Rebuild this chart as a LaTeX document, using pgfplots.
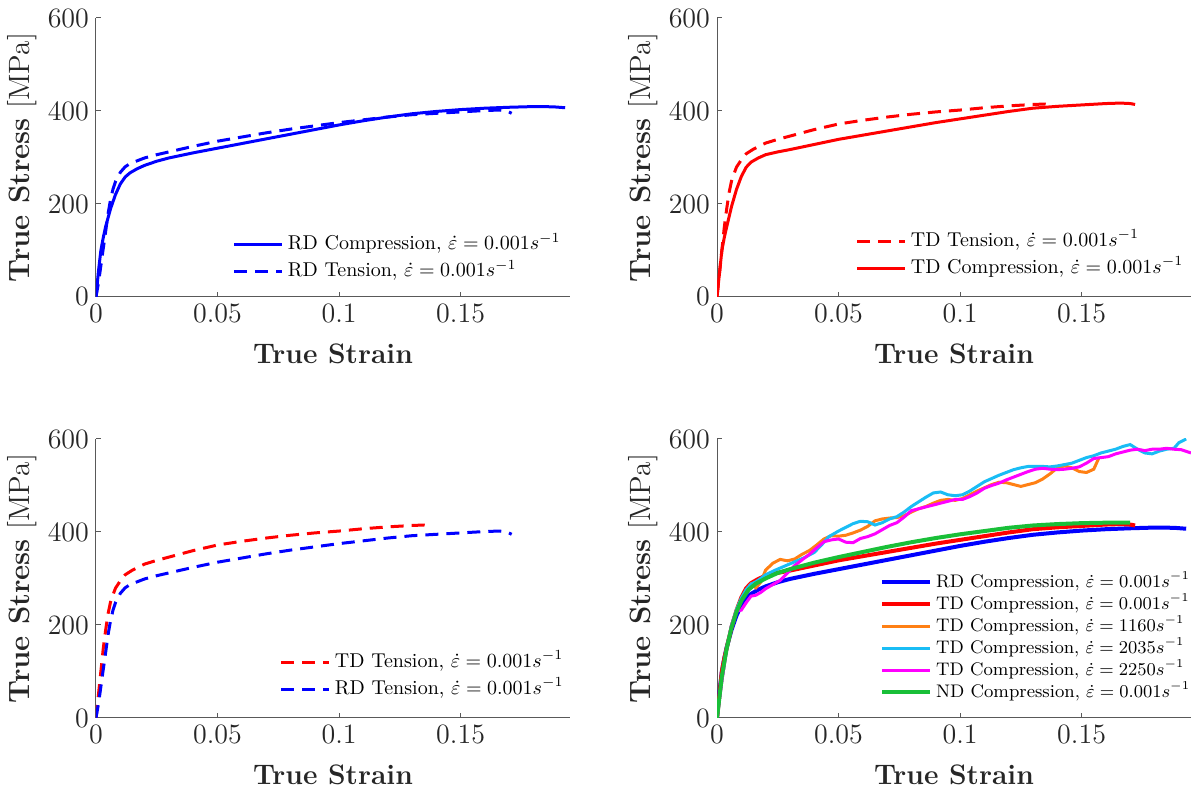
\documentclass[border=0pt]{standalone}
\usepackage{pgfplots}
\pgfplotsset{compat=1.18}
\definecolor{mblue}{rgb}{0,0,1}
\definecolor{mred}{rgb}{1,0,0}
\definecolor{morange}{rgb}{1,0.5,0.08}
\definecolor{mcyan}{rgb}{0.1,0.74,0.96}
\definecolor{mmag}{rgb}{1,0,1}
\definecolor{mgreen}{rgb}{0.1,0.75,0.22}
\definecolor{axgray}{rgb}{0.35,0.35,0.35}

\pgfplotstableread{
x y
0 0
0.001 55
0.002 100
0.003 128
0.004 152
0.006 190
0.008 220
0.010 243
0.012 258
0.014 267
0.017 276
0.020 283
0.025 292
0.030 299
0.040 310
0.050 320
0.060 330
0.070 340
0.080 350
0.090 360
0.100 370
0.110 379
0.120 387
0.130 394
0.140 399
0.150 403
0.160 406
0.170 408
0.180 409.5
0.188 409
0.193 407
}\rdcomp

\pgfplotstableread{
x y
0 0
0.001 30
0.002 67
0.003 105
0.004 142
0.005 180
0.006 210
0.007 232
0.008 248
0.010 268
0.012 280
0.014 287
0.017 293
0.020 299
0.025 306
0.030 312
0.040 324
0.050 335
0.060 344
0.070 353
0.080 361
0.090 368
0.100 375
0.110 381
0.120 387
0.130 392
0.140 395
0.150 398
0.160 401
0.166 402
0.169 400
0.171 395
}\rdten

\pgfplotstableread{
x y
0 0
0.001 50
0.002 100
0.003 128
0.004 151
0.006 195
0.008 231
0.010 259
0.012 279
0.014 290
0.017 299
0.020 306
0.025 312
0.030 317
0.040 328
0.050 339
0.060 348
0.070 357
0.080 366
0.090 375
0.100 383
0.110 391
0.120 399
0.130 406
0.140 410
0.150 413
0.160 416
0.166 417
0.170 416
0.172 414
}\tdcomp

\pgfplotstableread{
x y
0 0
0.001 50
0.002 100
0.003 150
0.004 190
0.005 225
0.006 250
0.007 265
0.008 279
0.010 295
0.012 308
0.015 318
0.020 331
0.025 339
0.030 346
0.040 360
0.050 372
0.060 380
0.070 387
0.080 393
0.090 398
0.100 402
0.110 407
0.120 411
0.130 414
0.135 415
0.138 412
}\tdten

\pgfplotstableread{
x y
0 0
0.002 90
0.004 150
0.006 195
0.008 228
0.010 252
0.013 276
0.016 289
0.020 300
0.025 312
0.030 320
0.040 334
0.050 346
0.060 357
0.070 368
0.080 378
0.090 387
0.100 395
0.110 402
0.120 409
0.130 414
0.140 417
0.150 419
0.160 420
0.170 420
}\ndcomp

\pgfplotstableread{
x y
0 0
0.002 80
0.004 150
0.006 200
0.008 232
0.010 255
0.012 276
0.014 288
0.016 280
0.018 292
0.020 318
0.023 333
0.026 341
0.029 338
0.032 342
0.035 352
0.038 360
0.041 372
0.044 385
0.047 392
0.050 391
0.053 393
0.056 398
0.059 404
0.062 412
0.065 424
0.068 428
0.071 430
0.074 431
0.077 435
0.080 443
0.083 450
0.086 455
0.089 462
0.092 468
0.095 470
0.098 468
0.101 472
0.104 480
0.107 488
0.110 495
0.113 502
0.116 507
0.119 506
0.122 502
0.125 498
0.128 502
0.131 506
0.134 514
0.137 525
0.140 538
0.143 542
0.146 538
0.149 530
0.152 528
0.155 535
0.157 558
}\tdA

\pgfplotstableread{
x y
0 0
0.002 80
0.004 150
0.006 200
0.008 233
0.010 258
0.012 276
0.014 288
0.016 293
0.018 300
0.020 308
0.024 318
0.028 327
0.032 336
0.036 345
0.040 356
0.043 372
0.046 390
0.050 402
0.053 410
0.056 418
0.059 423
0.062 422
0.065 415
0.068 420
0.071 428
0.074 433
0.077 443
0.080 455
0.083 465
0.086 475
0.089 484
0.092 486
0.095 480
0.098 478
0.101 480
0.104 488
0.107 498
0.110 508
0.113 515
0.116 522
0.119 528
0.122 534
0.125 538
0.128 541
0.131 541
0.134 541
0.137 540
0.140 542
0.143 545
0.146 548
0.149 554
0.152 560
0.155 564
0.158 570
0.161 574
0.164 578
0.167 584
0.170 588
0.173 578
0.176 570
0.179 568
0.182 574
0.185 578
0.188 580
0.190 592
0.193 600
}\tdB

\pgfplotstableread{
x y
0 0
0.002 80
0.004 150
0.006 200
0.008 230
0.010 232
0.012 248
0.014 262
0.016 264
0.018 270
0.020 278
0.023 287
0.026 296
0.029 312
0.032 328
0.035 340
0.038 352
0.041 366
0.044 379
0.047 383
0.050 385
0.053 378
0.056 377
0.059 386
0.062 390
0.065 396
0.068 405
0.071 414
0.074 420
0.077 432
0.080 446
0.083 450
0.086 454
0.089 458
0.092 462
0.095 466
0.098 470
0.101 470
0.104 476
0.107 484
0.110 494
0.113 500
0.116 505
0.119 512
0.122 518
0.125 524
0.128 530
0.131 535
0.134 537
0.137 535
0.140 534
0.143 535
0.146 537
0.149 540
0.152 548
0.155 558
0.158 560
0.161 562
0.164 568
0.167 572
0.170 576
0.173 578
0.176 575
0.179 578
0.182 578
0.185 580
0.188 578
0.191 577
0.195 570
}\tdC

\pgfplotsset{
  myax/.style={
    scale only axis, width=237pt, height=139.5pt,
    xmin=0, xmax=0.195, ymin=0, ymax=600,
    axis x line*=bottom, axis y line*=left,
    axis line style={-, draw=axgray, line width=0.5pt},
    xtick={0,0.05,0.1,0.15}, xticklabels={0,0.05,0.1,0.15},
    ytick={0,200,400,600}, yticklabels={0,200,400,600},
    tick align=inside, major tick length=2.5pt,
    tick style={draw=axgray, line width=0.5pt},
    ticklabel style={font=\fontsize{14}{16}\selectfont, text=black!85},
    xlabel={\textbf{True Strain}},
    ylabel={\textbf{True Stress} [MPa]},
    xlabel style={font=\fontsize{14.1}{16}\selectfont, text=black!85,
      at={(axis description cs:0.5,-0.204)}, anchor=center},
    ylabel style={font=\fontsize{14.7}{16}\selectfont, text=black!85,
      at={(axis description cs:-0.156,0.5)}, anchor=center, rotate=0},
    legend cell align=left,
    legend image code/.code={\draw[##1] (0pt,0pt) -- (24pt,0pt);},
    legend style={draw=none, fill=none, inner sep=0pt, outer sep=0pt,
      font=\fontsize{10}{12}\selectfont, row sep=3.5pt,
      nodes={inner xsep=2pt, inner ysep=0pt, text height=7.5pt, text depth=2.5pt}},
  },
  sol/.style={line width=1.5pt, solid},
  dsh/.style={line width=1.5pt, dash pattern=on 6.5pt off 4pt},
}

\begin{document}
\begin{tikzpicture}
\path[use as bounding box] (0,0) rectangle (595.5pt,397.5pt);

% top left
\begin{axis}[myax, at={(48pt,249pt)}, anchor=south west,
  legend style={at={(axis description cs:0.289,0.138)}, anchor=west}]
\addplot[mblue, sol] table {\rdcomp};
\addlegendentry{RD Compression, $\dot{\varepsilon}=0.001s^{-1}$}
\addplot[mblue, dsh] table {\rdten};
\addlegendentry{RD Tension, $\dot{\varepsilon}=0.001s^{-1}$}
\end{axis}

% top right
\begin{axis}[myax, at={(358.5pt,249pt)}, anchor=south west,
  legend style={at={(axis description cs:0.293,0.152)}, anchor=west}]
\addplot[mred, dsh] table {\tdten};
\addlegendentry{TD Tension, $\dot{\varepsilon}=0.001s^{-1}$}
\addplot[mred, sol] table {\tdcomp};
\addlegendentry{TD Compression, $\dot{\varepsilon}=0.001s^{-1}$}
\end{axis}

% bottom left
\begin{axis}[myax, at={(48pt,38.5pt)}, anchor=south west,
  legend style={at={(axis description cs:0.388,0.152)}, anchor=west}]
\addplot[mred, dsh] table {\tdten};
\addlegendentry{TD Tension, $\dot{\varepsilon}=0.001s^{-1}$}
\addplot[mblue, dsh] table {\rdten};
\addlegendentry{RD Tension, $\dot{\varepsilon}=0.001s^{-1}$}
\end{axis}

% bottom right
\begin{axis}[myax, at={(358.5pt,38.5pt)}, anchor=south west,
  legend style={at={(axis description cs:0.344,0.2885)}, anchor=west,
    font=\fontsize{9.1}{11}\selectfont, row sep=1.7pt,
    nodes={inner xsep=2pt, inner ysep=0pt, text height=7pt, text depth=2.3pt}}]
\addplot[mblue, line width=2pt] table {\rdcomp};
\addlegendentry{RD Compression, $\dot{\varepsilon}=0.001s^{-1}$}
\addplot[mred, line width=2pt] table {\tdcomp};
\addlegendentry{TD Compression, $\dot{\varepsilon}=0.001s^{-1}$}
\addplot[morange, line width=1.5pt] table {\tdA};
\addlegendentry{TD Compression, $\dot{\varepsilon}=1160s^{-1}$}
\addplot[mcyan, line width=1.5pt] table {\tdB};
\addlegendentry{TD Compression, $\dot{\varepsilon}=2035s^{-1}$}
\addplot[mmag, line width=1.5pt] table {\tdC};
\addlegendentry{TD Compression, $\dot{\varepsilon}=2250s^{-1}$}
\addplot[mgreen, line width=2pt] table {\ndcomp};
\addlegendentry{ND Compression, $\dot{\varepsilon}=0.001s^{-1}$}
\end{axis}
\end{tikzpicture}
\end{document}
